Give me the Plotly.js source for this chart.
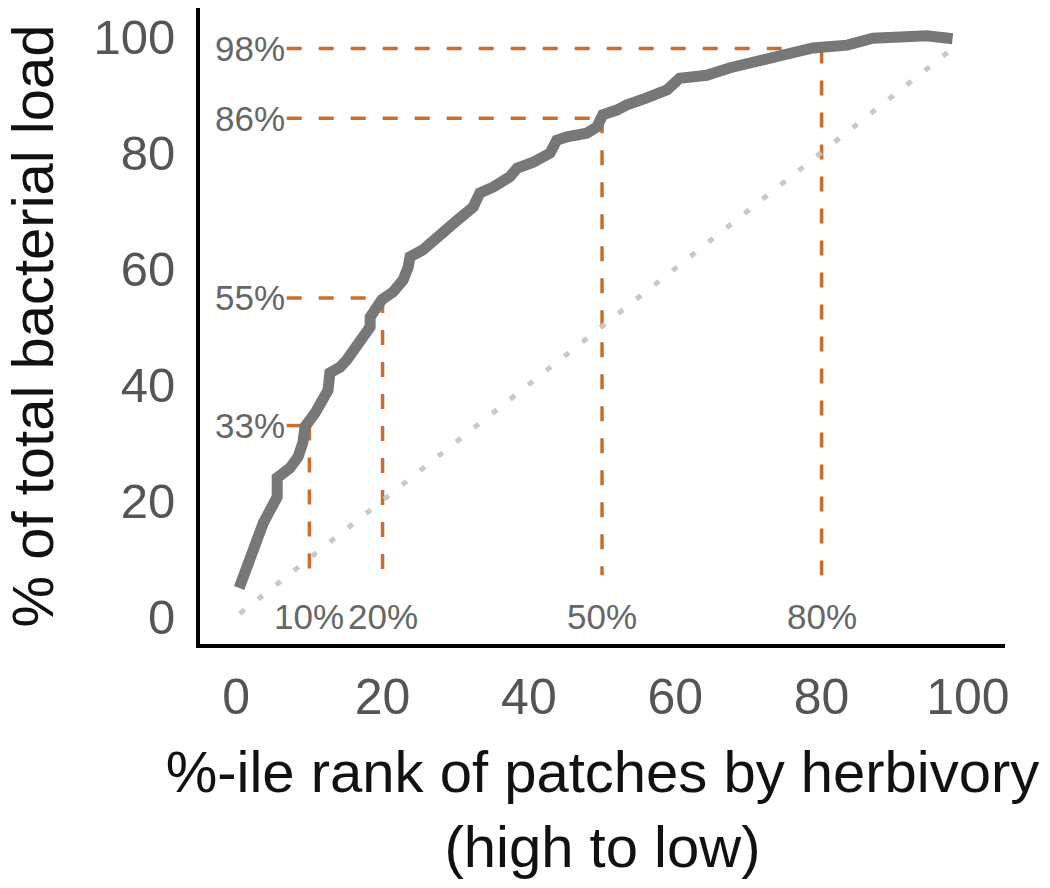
<!DOCTYPE html>
<html>
<head>
<meta charset="utf-8">
<script src="https://cdn.plot.ly/plotly-3.0.1.min.js"></script>
<style>
  html, body { margin: 0; padding: 0; background: #fff; }
  #chart { width: 1050px; height: 888px; }
</style>
</head>
<body>
<div id="chart"></div>
<script>
// Cumulative curve: %-ile rank of patches (x) vs % of total bacterial load (y)
const rankX = [0.4, 1.9, 3.7, 5.6, 5.6, 7.35, 8.45, 9.1, 9.4, 10.8, 11.9, 12.55, 12.8, 14.2, 15.1, 16.5, 18.3, 18.3,
  19.9, 21.4, 22.8, 23.5, 23.75, 25.5, 26.9, 27.85, 30.2, 32.4, 33.3, 35.1, 37.4, 38.4, 40.6, 42.9, 43.8, 45.2,
  47.9, 49.3, 50.1, 52.0, 53.4, 56.1, 58.9, 60.6, 64.3, 67.5, 70.6, 74.3, 78.8, 83.5, 86.6, 87.0, 94.4, 97.1, 97.9];
const loadY = [5.0, 10.3, 16.2, 20.7, 24.0, 25.7, 27.6, 30.0, 32.8, 35.2, 37.4, 39.1, 42.1, 43.1, 44.3, 46.6, 50.0, 51.7,
  54.7, 56.0, 58.1, 60.3, 62.1, 63.3, 65.0, 66.2, 68.4, 70.7, 73.1, 74.1, 75.9, 77.4, 78.4, 80.0, 82.2, 82.8,
  83.4, 84.5, 86.6, 87.4, 88.3, 89.5, 90.9, 92.9, 93.4, 94.7, 95.7, 96.6, 98.1, 98.6, 99.5, 99.8, 100.2, 100.0, 99.7];

// 1:1 reference line (equal distribution)
const diagX = [0.5, 98.5];
const diagY = [0.6, 98.6];

// Highlighted percentiles and the load they capture
const markRank = [10, 20, 50, 80];
const markLoad = [33, 55, 86, 98];

const xTicks = [0, 20, 40, 60, 80, 100];
const yTicks = [0, 20, 40, 60, 80, 100];

const orange = '#cc6d2e';
const labelStartX = 6.9;   // where the horizontal guides begin (right of the % labels)
const guideBottomY = 7.2;  // where the vertical guides end

const traces = [];
// horizontal guides
markLoad.forEach((v, i) => {
  traces.push({
    x: [labelStartX, markRank[i]], y: [v, v], mode: 'lines', hoverinfo: 'skip',
    line: { color: orange, width: 3.5, dash: '15px,17px' }, showlegend: false
  });
});
// vertical guides
markRank.forEach((r, i) => {
  traces.push({
    x: [r, r], y: [markLoad[i], guideBottomY], mode: 'lines', hoverinfo: 'skip',
    line: { color: orange, width: 3.5, dash: '15px,17px' }, showlegend: false
  });
});
// diagonal
traces.push({
  x: diagX, y: diagY, mode: 'lines', hoverinfo: 'skip',
  line: { color: '#c9c9c4', width: 5, dash: '6px,17px' }, showlegend: false
});
// main curve
traces.push({
  x: rankX, y: loadY, mode: 'lines',
  line: { color: '#777777', width: 11 }, showlegend: false
});

const annotations = [];
markLoad.forEach(v => {
  annotations.push({
    x: labelStartX, y: v, xref: 'x', yref: 'y', text: v + '%', showarrow: false,
    xanchor: 'right', yanchor: 'middle', font: { family: 'Liberation Sans, Arial, sans-serif', size: 35, color: '#666' }
  });
});
markRank.forEach(r => {
  annotations.push({
    x: r, y: 0, xref: 'x', yref: 'y', text: r + '%', showarrow: false,
    xanchor: 'center', yanchor: 'middle', font: { family: 'Liberation Sans, Arial, sans-serif', size: 35, color: '#666' }
  });
});

const layout = {
  width: 1050, height: 888,
  margin: { l: 200, r: 45, t: 8, b: 244 },
  paper_bgcolor: '#fff', plot_bgcolor: '#fff',
  font: { family: 'Liberation Sans, Arial, sans-serif', color: '#111' },
  xaxis: {
    range: [-4.95, 105.07], tickvals: xTicks, ticktext: xTicks.map(String),
    showgrid: false, zeroline: false, showline: true, linecolor: '#000', linewidth: 4,
    ticks: '', ticklabelstandoff: 6,
    tickfont: { size: 50, color: '#555' },
    title: { text: '%-ile rank of patches by herbivory<br>(high to low)', font: { size: 58, color: '#111' }, standoff: 28 }
  },
  yaxis: {
    range: [-4.66, 105.0], tickvals: yTicks, ticktext: yTicks.map(String),
    showgrid: false, zeroline: false, showline: true, linecolor: '#000', linewidth: 4,
    ticks: '', ticklabelstandoff: 11,
    tickfont: { size: 49, color: '#555' },
    title: { text: '% of total bacterial load', font: { size: 58, color: '#111' }, standoff: 25 }
  },
  annotations: annotations
};

Plotly.newPlot('chart', traces, layout, { displayModeBar: false, staticPlot: true });
</script>
</body>
</html>
